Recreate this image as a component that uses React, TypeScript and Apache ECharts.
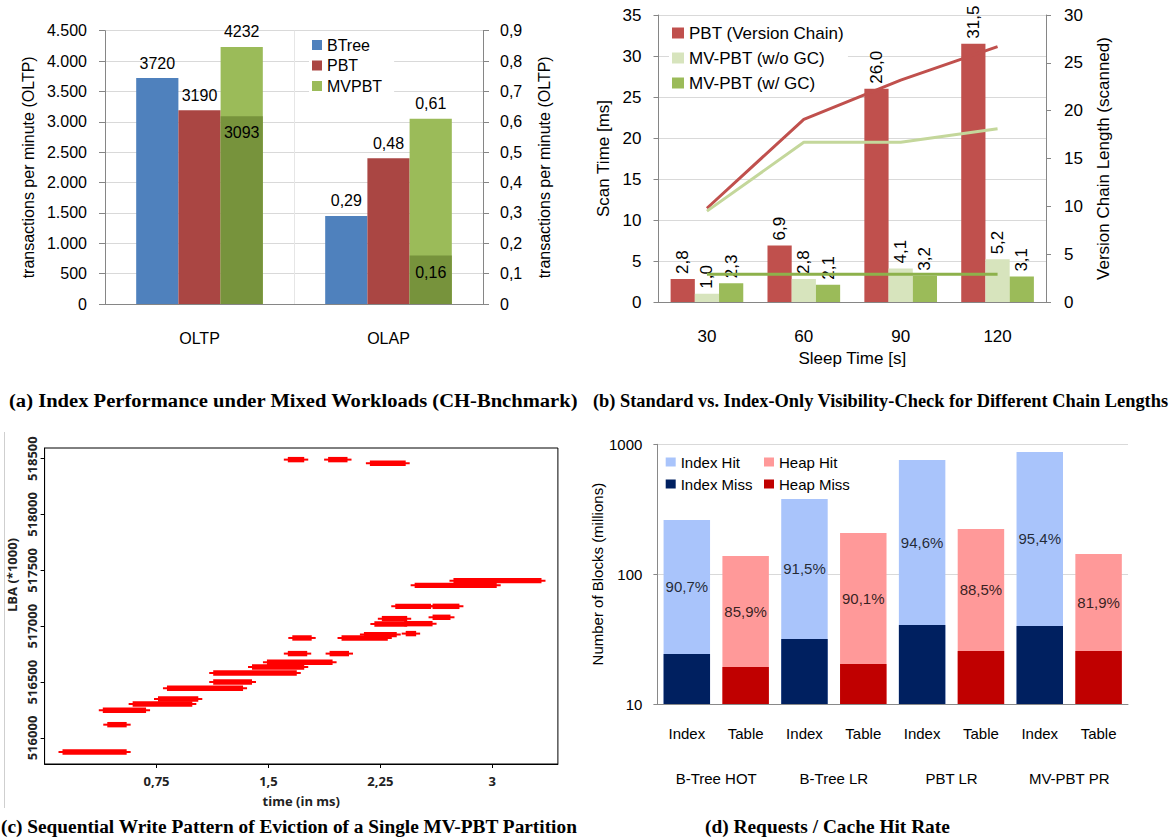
import React, { useEffect, useRef } from 'react';
import * as echarts from 'echarts';

const SANS = '"Liberation Sans", Arial, sans-serif';
const SERIF = '"Liberation Serif", "DejaVu Serif", serif';
const COND = '"Open Sans", "DejaVu Sans", sans-serif';

// ---------- (a) Index performance (OLTP on left axis, OLAP on right axis) ----------
const aCategories = ['OLTP', 'OLAP'];
const aBTree = [3720, 0.29];
const aPBT = [3190, 0.48];
const aMVPBT = [4232, 0.61];
const aMVPBTBase = [3093, 0.16];

// ---------- (b) Scan time / chain length ----------
const bCategories = ['30', '60', '90', '120'];
const bScanPBT = [2.8, 6.9, 26.0, 31.5];
const bScanMVNoGC = [1.0, 2.8, 4.1, 5.2];
const bScanMVGC = [2.3, 2.1, 3.2, 3.1];
const bChainPBT = [9.8, 19.1, 23.2, 26.7];
const bChainMVNoGC = [9.5, 16.7, 16.7, 18.1];
const bChainMVGC = [2.9, 2.9, 2.9, 2.9];

// ---------- (c) Write pattern: horizontal runs (start ms, end ms, LBA*1000) ----------
const cSegStart = [0.12, 0.42, 0.39, 0.59, 0.76, 0.82, 1.13, 1.13, 1.39, 1.49, 1.63, 1.91, 1.66, 1.99, 2.14, 2.42, 2.21, 2.26, 2.41, 2.60, 2.35, 2.60, 2.48, 2.74, 1.63, 1.90, 2.18];
const cSegEnd = [0.55, 0.55, 0.68, 0.99, 1.03, 1.33, 1.39, 1.69, 1.74, 1.93, 1.76, 2.04, 1.79, 2.30, 2.36, 2.49, 2.43, 2.43, 2.60, 2.72, 2.59, 2.78, 3.03, 3.33, 1.74, 2.03, 2.42];
const cSegLBA = [515875, 516119, 516248, 516304, 516349, 516445, 516501, 516582, 516635, 516677, 516755, 516755, 516895, 516895, 516925, 516934, 517020, 517068, 517023, 517080, 517178, 517178, 517366, 517408, 518491, 518491, 518458];
const cTicksX = [0.75, 1.5, 2.25, 3];
const cTicksY = [516000, 516500, 517000, 517500, 518000, 518500];

// ---------- (d) Requests / cache hit rate ----------
const dGroups = ['B-Tree HOT', 'B-Tree LR', 'PBT LR', 'MV-PBT PR'];
const dKinds = ['Index', 'Table'];
const dIndexTotal = [261, 379, 757, 873];
const dIndexMiss = [24.3, 31.7, 40.6, 39.9];
const dTableTotal = [138, 207.5, 222.8, 143];
const dTableMiss = [19.3, 20.3, 25.6, 25.6];
const dIndexHitRate = [90.7, 91.5, 94.6, 95.4];
const dTableHitRate = [85.9, 90.1, 88.5, 81.9];

const captions = [
  { text: '(a) Index Performance under Mixed Workloads (CH-Bnchmark)', x: 9, y: 400, w: 570 },
  { text: '(b) Standard vs. Index-Only Visibility-Check for Different Chain Lengths', x: 593, y: 400, w: 576 },
  { text: '(c) Sequential Write Pattern of Eviction of a Single MV-PBT Partition', x: 1, y: 827, w: 577 },
  { text: '(d) Requests / Cache Hit Rate', x: 705, y: 827, w: 245 },
];

const comma = (v: number, d: number) => v.toFixed(d).replace('.', ',');
const thousands = (v: number) =>
  v >= 1000 ? `${Math.floor(v / 1000)}.${String(v % 1000).padStart(3, '0')}` : String(v);

const AXIS = '#868686';
const GRID = '#d9d9d9';

function measure(text: string, font: string) {
  const ctx = document.createElement('canvas').getContext('2d')!;
  ctx.font = font;
  return ctx.measureText(text).width;
}

function buildOption(): any {
  const capFont = 19;
  const graphic: any[] = captions.map((c) => {
    const w = measure(c.text, `bold ${capFont}px "Liberation Serif"`) || c.w;
    return {
      type: 'text',
      x: c.x,
      y: c.y,
      scaleX: c.w / w,
      style: {
        text: c.text,
        fontFamily: SERIF,
        fontWeight: 'bold',
        fontSize: capFont,
        fill: '#000',
        verticalAlign: 'middle',
        align: 'left',
      },
    };
  });
  graphic.push({
    type: 'line',
    shape: { x1: 4.5, y1: 432, x2: 4.5, y2: 808 },
    style: { stroke: '#cfcfcf', lineWidth: 1 },
  });

  const dCats = dGroups.flatMap(() => dKinds);
  const onIndex = (arr: number[]) => arr.flatMap((v) => [v, '-']);
  const onTable = (arr: number[]) => arr.flatMap((v) => ['-', v]);
  const dLabels = dGroups.flatMap((_, i) => [
    [2 * i, Math.sqrt(dIndexTotal[i] * dIndexMiss[i]), dIndexHitRate[i]],
    [2 * i + 1, Math.sqrt(dTableTotal[i] * dTableMiss[i]), dTableHitRate[i]],
  ]);

  const aLabelTop = (right: boolean) => ({
    show: true,
    position: 'top',
    distance: 7,
    fontSize: 16,
    color: '#000',
    formatter: (p: any) => (right ? comma(p.value, 2) : String(p.value)),
  });

  const aBar = (name: string, color: string, vals: number[], stack: string) => [
    {
      name, type: 'bar', xAxisIndex: 0, yAxisIndex: 0, stack,
      barGap: '0%', barCategoryGap: '33%',
      itemStyle: { color }, data: [vals[0], '-'], label: aLabelTop(false),
    },
    {
      name, type: 'bar', xAxisIndex: 0, yAxisIndex: 1, stack,
      barGap: '0%', barCategoryGap: '33%',
      itemStyle: { color }, data: ['-', vals[1]], label: aLabelTop(true),
    },
  ];

  const bLabel = {
    show: true,
    position: 'top',
    rotate: 90,
    align: 'left',
    verticalAlign: 'middle',
    distance: 5,
    fontSize: 17,
    color: '#000',
    formatter: (p: any) => comma(p.value, 1),
  };

  const series: any[] = [
    ...aBar('BTree', '#4F81BD', aBTree, 'aB'),
    ...aBar('PBT', '#AA4643', aPBT, 'aP'),
    ...aBar('MVPBT', '#9BBB59', aMVPBT, 'aM'),
    { name: 'padB', type: 'bar', xAxisIndex: 1, yAxisIndex: 0, stack: 'aB2', barGap: '0%', barCategoryGap: '33%', data: ['-', '-'] },
    { name: 'padP', type: 'bar', xAxisIndex: 1, yAxisIndex: 0, stack: 'aP2', barGap: '0%', barCategoryGap: '33%', data: ['-', '-'] },
    {
      name: 'MVPBT base', type: 'bar', xAxisIndex: 1, yAxisIndex: 0, stack: 'aM2',
      barGap: '0%', barCategoryGap: '33%', itemStyle: { color: '#77933C' },
      data: [aMVPBTBase[0], '-'],
      label: { show: true, position: 'insideTop', distance: 8, fontSize: 16, color: '#000', formatter: (p: any) => String(p.value) },
    },
    {
      name: 'MVPBT base', type: 'bar', xAxisIndex: 1, yAxisIndex: 1, stack: 'aM2',
      barGap: '0%', barCategoryGap: '33%', itemStyle: { color: '#77933C' },
      data: ['-', aMVPBTBase[1]],
      label: { show: true, position: 'insideTop', distance: 9, fontSize: 16, color: '#000', formatter: (p: any) => comma(p.value, 2) },
    },

    // (b)
    { name: 'PBT (Version Chain)', type: 'bar', xAxisIndex: 2, yAxisIndex: 2, barGap: '0%', barCategoryGap: '25%', itemStyle: { color: '#C0504D' }, data: bScanPBT, label: bLabel },
    { name: 'MV-PBT (w/o GC)', type: 'bar', xAxisIndex: 2, yAxisIndex: 2, barGap: '0%', barCategoryGap: '25%', itemStyle: { color: '#D7E4BD' }, data: bScanMVNoGC, label: bLabel },
    { name: 'MV-PBT (w/ GC)', type: 'bar', xAxisIndex: 2, yAxisIndex: 2, barGap: '0%', barCategoryGap: '25%', itemStyle: { color: '#9BBB59' }, data: bScanMVGC, label: bLabel },
    { name: 'PBT chain', type: 'line', xAxisIndex: 2, yAxisIndex: 3, symbol: 'none', lineStyle: { color: '#C0504D', width: 3 }, itemStyle: { color: '#C0504D' }, data: bChainPBT },
    { name: 'MV-PBT w/o GC chain', type: 'line', xAxisIndex: 2, yAxisIndex: 3, symbol: 'none', lineStyle: { color: '#C4D79B', width: 3 }, itemStyle: { color: '#C4D79B' }, data: bChainMVNoGC },
    { name: 'MV-PBT w/ GC chain', type: 'line', xAxisIndex: 2, yAxisIndex: 3, symbol: 'none', lineStyle: { color: '#8DB14B', width: 3 }, itemStyle: { color: '#8DB14B' }, data: bChainMVGC },

    // (c)
    {
      name: 'writes', type: 'custom', xAxisIndex: 3, yAxisIndex: 4, clip: true,
      encode: { x: [0, 1], y: 2 },
      data: cSegStart.map((s, i) => [s, cSegEnd[i], cSegLBA[i]]),
      renderItem: (_params: any, api: any) => {
        const a = api.coord([api.value(0), api.value(2)]);
        const b = api.coord([api.value(1), api.value(2)]);
        return {
          type: 'group',
          children: [
            { type: 'rect', shape: { x: a[0] - 4, y: a[1] - 1, width: b[0] - a[0] + 8, height: 2 }, style: { fill: '#ff0000' } },
            { type: 'rect', shape: { x: a[0], y: a[1] - 2.7, width: b[0] - a[0], height: 5.4 }, style: { fill: '#ff0000' } },
          ],
        };
      },
    },

    // (d)
    { name: 'Index Hit', type: 'bar', xAxisIndex: 4, yAxisIndex: 5, barGap: '-100%', barCategoryGap: '21%', itemStyle: { color: '#A9C4FB' }, data: onIndex(dIndexTotal) },
    { name: 'Heap Hit', type: 'bar', xAxisIndex: 4, yAxisIndex: 5, barGap: '-100%', barCategoryGap: '21%', itemStyle: { color: '#FF9999' }, data: onTable(dTableTotal) },
    { name: 'Index Miss', type: 'bar', xAxisIndex: 4, yAxisIndex: 5, barGap: '-100%', barCategoryGap: '21%', itemStyle: { color: '#002060' }, data: onIndex(dIndexMiss) },
    { name: 'Heap Miss', type: 'bar', xAxisIndex: 4, yAxisIndex: 5, barGap: '-100%', barCategoryGap: '21%', itemStyle: { color: '#C00000' }, data: onTable(dTableMiss) },
    {
      name: 'Hit Rate', type: 'scatter', xAxisIndex: 4, yAxisIndex: 5, silent: true,
      symbolSize: 0, itemStyle: { color: 'rgba(0,0,0,0)' }, z: 5,
      data: dLabels,
      label: { show: true, position: 'inside', fontSize: 15, color: '#000', formatter: (p: any) => comma(p.value[2], 1) + '%' },
    },
  ];

  return {
    animation: false,
    backgroundColor: '#fff',
    textStyle: { fontFamily: SANS, color: '#000' },
    graphic,
    grid: [
      { left: 105, top: 30.7, width: 378, height: 273.3, outerBoundsMode: 'none' },
      { left: 658.5, top: 15, width: 387.5, height: 287, outerBoundsMode: 'none' },
      { left: 44.6, top: 448, width: 513.3, height: 316, show: true, borderColor: '#000', borderWidth: 1, outerBoundsMode: 'none' },
      { left: 657.4, top: 444.3, width: 470.6, height: 259.7, outerBoundsMode: 'none' },
    ],
    legend: [
      {
        data: ['BTree', 'PBT', 'MVPBT'], orient: 'vertical', left: 309, top: 34,
        icon: 'rect', itemWidth: 10, itemHeight: 10, itemGap: 4.5,
        textStyle: { fontSize: 16, lineHeight: 16, color: '#000' },
        backgroundColor: '#fff', padding: [3, 12, 3, 3],
      },
      {
        data: ['PBT (Version Chain)', 'MV-PBT (w/o GC)', 'MV-PBT (w/ GC)'], orient: 'vertical', left: 669, top: 22.5,
        icon: 'rect', itemWidth: 12, itemHeight: 11, itemGap: 8,
        textStyle: { fontSize: 17, lineHeight: 17, color: '#000' },
        backgroundColor: '#fff', padding: [2, 4, 2, 3],
      },
      {
        data: ['Index Hit', 'Index Miss'], orient: 'vertical', left: 665.7, top: 454.5,
        icon: 'rect', itemWidth: 10, itemHeight: 9, itemGap: 7, padding: 0,
        textStyle: { fontSize: 15, lineHeight: 15, color: '#000' },
      },
      {
        data: ['Heap Hit', 'Heap Miss'], orient: 'vertical', left: 764, top: 454.5,
        icon: 'rect', itemWidth: 10, itemHeight: 9, itemGap: 7, padding: 0,
        textStyle: { fontSize: 15, lineHeight: 15, color: '#000' },
      },
    ],
    xAxis: [
      {
        gridIndex: 0, type: 'category', data: aCategories,
        axisLine: { lineStyle: { color: AXIS } },
        axisTick: { length: 6, lineStyle: { color: GRID } },
        splitLine: { show: true, lineStyle: { color: '#e6e6e6' } },
        axisLabel: { fontSize: 16, color: '#000', margin: 26 },
      },
      { gridIndex: 0, type: 'category', data: aCategories, show: false },
      {
        gridIndex: 1, type: 'category', data: bCategories,
        axisLine: { lineStyle: { color: AXIS } },
        axisTick: { length: 6, lineStyle: { color: GRID } },
        axisLabel: { fontSize: 17, color: '#000', margin: 26 },
        name: 'Sleep Time [s]', nameLocation: 'middle', nameGap: 47.5,
        nameTextStyle: { fontSize: 17, color: '#000' },
      },
      {
        gridIndex: 2, type: 'value', min: 0, max: 3.44,
        axisLine: { lineStyle: { color: '#000' } },
        axisTick: { length: 4, customValues: cTicksX, lineStyle: { color: '#000' } },
        axisLabel: {
          customValues: cTicksX, formatter: (v: number) => String(v).replace('.', ','),
          fontFamily: COND, fontWeight: 'bold', fontSize: 13, color: '#222', margin: 10,
        },
        splitLine: { show: false },
        name: 'time (in ms)', nameLocation: 'middle', nameGap: 30,
        nameTextStyle: { fontFamily: COND, fontWeight: 'bold', fontSize: 13, color: '#222' },
      },
      {
        gridIndex: 3, type: 'category', data: dCats,
        axisLine: { lineStyle: { color: '#898989' } },
        axisTick: { length: 44, interval: 0, lineStyle: { color: GRID } },
        axisLabel: { fontSize: 15, color: '#000', margin: 21.5, interval: 0 },
      },
      {
        gridIndex: 3, type: 'category', data: dGroups, position: 'bottom',
        axisLine: { show: false },
        axisTick: { length: 88, interval: 0, lineStyle: { color: GRID } },
        axisLabel: { fontSize: 15, color: '#000', margin: 66.5, interval: 0 },
      },
    ],
    yAxis: [
      {
        gridIndex: 0, type: 'value', min: 0, max: 4500, interval: 500, position: 'left',
        axisLine: { show: true, lineStyle: { color: AXIS } },
        axisTick: { show: true, length: 6, lineStyle: { color: AXIS } },
        splitLine: { lineStyle: { color: GRID } },
        axisLabel: { fontSize: 16, color: '#000', margin: 18, formatter: (v: number) => thousands(v) },
        name: 'transactions per minute (OLTP)', nameLocation: 'middle', nameGap: 69,
        nameTextStyle: { fontSize: 16, color: '#000' },
      },
      {
        gridIndex: 0, type: 'value', min: 0, max: 0.9, interval: 0.1, position: 'right',
        axisLine: { show: true, lineStyle: { color: AXIS } },
        axisTick: { show: true, length: 6, lineStyle: { color: AXIS } },
        splitLine: { show: false },
        axisLabel: { fontSize: 16, color: '#000', margin: 17, formatter: (v: number) => (v === 0 ? '0' : comma(v, 1)) },
        name: 'transactions per minute (OLTP)', nameLocation: 'middle', nameGap: 53,
        nameTextStyle: { fontSize: 16, color: '#000' },
      },
      {
        gridIndex: 1, type: 'value', min: 0, max: 35, interval: 5, position: 'left',
        axisLine: { show: true, lineStyle: { color: AXIS } },
        axisTick: { show: true, length: 5, lineStyle: { color: AXIS } },
        splitLine: { lineStyle: { color: GRID } },
        axisLabel: { fontSize: 17, color: '#000', margin: 17 },
        name: 'Scan Time [ms]', nameLocation: 'middle', nameGap: 47,
        nameTextStyle: { fontSize: 17, color: '#000' },
      },
      {
        gridIndex: 1, type: 'value', min: 0, max: 30, interval: 5, position: 'right',
        axisLine: { show: true, lineStyle: { color: AXIS } },
        axisTick: { show: true, length: 5, lineStyle: { color: AXIS } },
        splitLine: { show: false },
        axisLabel: { fontSize: 17, color: '#000', margin: 18 },
        name: 'Version Chain Length (scanned)', nameLocation: 'middle', nameGap: 48.5,
        nameTextStyle: { fontSize: 17, color: '#000' },
      },
      {
        gridIndex: 2, type: 'value', min: 515767, max: 518595,
        axisLine: { show: true, lineStyle: { color: '#000' } },
        axisTick: { show: true, length: 4, customValues: cTicksY, lineStyle: { color: '#000' } },
        axisLabel: {
          customValues: cTicksY, rotate: 90, formatter: (v: number) => String(v),
          fontFamily: COND, fontWeight: 'bold', fontSize: 13, color: '#222', margin: 6,
        },
        splitLine: { show: false },
        name: 'LBA (*1000)', nameLocation: 'middle', nameGap: 26,
        nameTextStyle: { fontFamily: COND, fontWeight: 'bold', fontSize: 13, color: '#222', padding: [0, 0, 0, 62] },
      },
      {
        gridIndex: 3, type: 'log', logBase: 10, min: 10, max: 1000,
        axisLine: { show: true, lineStyle: { color: '#898989' } },
        axisTick: { show: true, length: 4, lineStyle: { color: '#898989' } },
        splitLine: { lineStyle: { color: GRID } },
        axisLabel: { fontSize: 15, color: '#000', margin: 15, formatter: (v: number) => String(Math.round(v)) },
        name: 'Number of Blocks (millions)', nameLocation: 'middle', nameGap: 36,
        nameTextStyle: { fontSize: 15, color: '#000' },
      },
    ],
    series,
  };
}

export default function App() {
  const ref = useRef<HTMLDivElement>(null);
  useEffect(() => {
    const chart = echarts.init(ref.current!, null, { renderer: 'svg' });
    chart.setOption(buildOption());
    return () => chart.dispose();
  }, []);
  return (
    <div
      ref={ref}
      style={{ position: 'absolute', left: 0, top: 0, width: 1175, height: 839, background: '#fff' }}
    />
  );
}
